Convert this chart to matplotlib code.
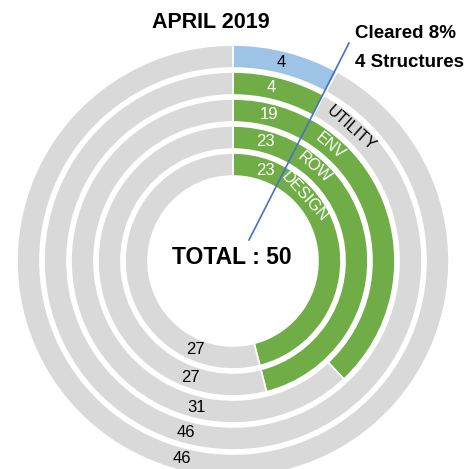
import numpy as np
import matplotlib
matplotlib.use("Agg")
import matplotlib.pyplot as plt

# ring data, outermost ring first
cleared = [4, 4, 19, 23, 23]
remaining = [46, 46, 31, 27, 27]
ring_names = ['', 'UTILITY', 'ENV', 'ROW', 'DESIGN']
total = 50

title = 'APRIL 2019'
note_lines = ['Cleared 8%', '4 Structures']

grey = '#D9D9D9'
green = '#70AD47'
blue = '#9DC3E6'
line_blue = '#4472C4'
first_colors = [blue, green, green, green, green]

plt.rcParams['font.family'] = ['Liberation Sans', 'DejaVu Sans']

fig = plt.figure(figsize=(4.71, 4.69), dpi=100)
ax = fig.add_axes([0, 0, 1, 1])

cx, cy = 233, 208
r_out = 216
step = 27
width = 23

for i in range(len(cleared)):
    r = r_out - i * step
    ax.pie([cleared[i], remaining[i]], radius=r, center=(cx, cy),
           colors=[first_colors[i], grey], startangle=90, counterclock=False,
           wedgeprops=dict(width=width, edgecolor='white', linewidth=1.2))

def polar(r, ang):
    a = np.deg2rad(ang)
    return cx + r * np.sin(a), cy + r * np.cos(a)

# label angles (clockwise from 12 o'clock)
first_angles = [13.6, 12.4, 13.8, 15, 19.5]
second_angles = [194.5, 195.5, 194, 200, 203]
name_angles = [0, 41.5, 40, 41, 48]

for i in range(len(cleared)):
    rm = r_out - i * step - width / 2
    x, y = polar(rm, first_angles[i])
    ax.text(x, y, str(cleared[i]), ha='center', va='center', fontsize=12,
            color='black' if i == 0 else 'white')
    x, y = polar(rm, second_angles[i])
    ax.text(x, y, str(remaining[i]), ha='center', va='center', fontsize=12,
            color='black')
    if ring_names[i]:
        x, y = polar(rm, name_angles[i])
        ax.text(x, y, ring_names[i], ha='center', va='center', fontsize=11.5,
                rotation=-name_angles[i], rotation_mode='anchor',
                color='black' if i == 1 else 'white')

# callout line
ax.plot([349, 249], [469 - 43, 469 - 240], color=line_blue, lw=1.2)

ax.text(211, 447, title, ha='center', va='center', fontsize=15.5, fontweight='bold')
ax.text(355, 436, note_lines[0], ha='left', va='center', fontsize=13.5, fontweight='bold')
ax.text(355, 407, note_lines[1], ha='left', va='center', fontsize=13.5, fontweight='bold')
ax.text(232, 211, 'TOTAL : %d' % total, ha='center', va='center', fontsize=16.5, fontweight='bold')

ax.set_xlim(0, 471)
ax.set_ylim(0, 469)
ax.set_aspect('equal')
ax.axis('off')

fig.savefig('out.png', dpi=100)
